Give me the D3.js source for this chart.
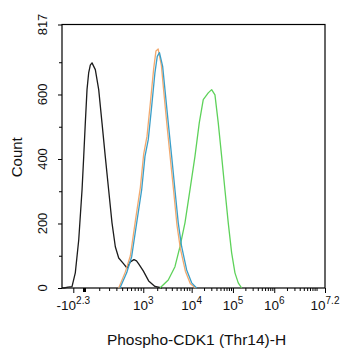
<!DOCTYPE html>
<html><head><meta charset="utf-8">
<script src="https://cdn.jsdelivr.net/npm/d3@7"></script>
<style>
html,body{margin:0;padding:0;background:#fff;}
svg text{font-family:"Liberation Sans",Arial,sans-serif;fill:#111;}
</style></head>
<body><svg id="c" width="342" height="350"></svg>
<script>
// ---- data (intensity, count) ----
const blackX = [-725, -594, -386, -238, -148, -77, -25, -3.5, 6.6, 15.7, 25.3, 34.9, 45.8, 68.9, 95.5, 124.6, 157, 195, 237, 284, 338, 430, 501, 580, 681, 757, 829, 1000, 1315, 1793, 2513];
const blackCount = [0, 0, 3, 4, 47, 149, 304, 408, 512, 615, 668, 691, 698, 677, 615, 512, 408, 304, 202, 128, 93, 75, 62, 81, 88, 84, 75, 53, 22, 5, 0];

const orangeX = [338, 465, 582, 722, 889, 1021, 1208, 1432, 1684, 1883, 2096, 2442, 2725, 3185, 3738, 4360, 5083, 5950, 7494, 9426, 12500];
const orangeCount = [0, 50, 100, 208, 312, 415, 470, 575, 680, 735, 741, 690, 612, 505, 400, 300, 195, 122, 52, 13, 0];

const blueX = [360, 494, 616, 763, 937, 1091, 1289, 1526, 1793, 2005, 2230, 2597, 2897, 3385, 3970, 4630, 5397, 6315, 7952, 10000, 13240];
const blueCount = [0, 47, 97, 202, 304, 408, 460, 563, 668, 718, 730, 687, 615, 512, 408, 304, 202, 128, 56, 16, 0];

const greenX = [2283, 3385, 4630, 5841, 7354, 9253, 12039, 15320, 19150, 25310, 30590, 36760, 44170, 53370, 64120, 77020, 93040, 111800, 134370, 162400];
const greenCount = [0, 25, 66, 128, 202, 304, 408, 512, 584, 605, 615, 599, 512, 408, 304, 202, 109, 47, 16, 0];

const xMajorValues = [-Math.pow(10, 2.3), 1e3, 1e4, 1e5, 1e6, Math.pow(10, 7.2)];
const xMajorBase = ["-10", "10", "10", "10", "10", "10"];
const xMajorExp = ["2.3", "3", "4", "5", "6", "7.2"];
const yMajor = [0, 200, 400, 600, 817];
const yMinor = [100, 300, 500, 700];
const xTitle = "Phospho-CDK1 (Thr14)-H";
const yTitle = "Count";

// ---- layout ----
const L = 62, R = 325, T = 24.5, B = 288;
const W = R - L;
const svg = d3.select("#c");

// biexponential-like display: symlog with piecewise anchors
const xAnchors = [-Math.pow(10, 2.3), 0, 1e3, 1e4, 1e5, 1e6, Math.pow(10, 7.2)];
const xAnchorFrac = [0.043, 0.0837, 0.309, 0.493, 0.650, 0.807, 1.0];
const x = d3.scaleSymlog().constant(140).domain(xAnchors).range(xAnchorFrac.map(f => L + f * W));
const y = d3.scaleLinear().domain([0, 817]).range([B, T]);

// minor x ticks
const xMinor = [];
for (let k = 1; k <= 9; k++) xMinor.push(k * 100);
[1e3, 1e4, 1e5, 1e6].forEach(d => { for (let k = 2; k <= 9; k++) if (d * k < Math.pow(10, 7.2)) xMinor.push(d * k); });
xMinor.push(1e7);

// frame
svg.append("rect").attr("x", L).attr("y", T).attr("width", W).attr("height", B - T)
  .attr("fill", "none").attr("stroke", "#000").attr("stroke-width", 1.2);

// x axis ticks
const gx = svg.append("g").attr("transform", `translate(0,${B})`);
gx.call(d3.axisBottom(x).tickValues(xMinor).tickSize(3).tickFormat(""));
gx.append("g").call(d3.axisBottom(x).tickValues(xMajorValues).tickSize(5).tickFormat(""));
gx.append("g").call(d3.axisBottom(x).tickValues([0]).tickSize(4).tickFormat(""))
  .selectAll(".tick line").attr("stroke-width", 3);
gx.selectAll(".domain").remove();
gx.selectAll("line").attr("stroke", "#000");

// x labels
const xl = svg.append("g");
xMajorValues.forEach((v, i) => {
  const t = xl.append("text").attr("x", x(v)).attr("y", 309.5).attr("text-anchor", "middle").attr("font-size", 13.5);
  t.append("tspan").text(xMajorBase[i]);
  t.append("tspan").attr("dy", -6).attr("font-size", 10).text(xMajorExp[i]);
});

// y axis ticks
const gy = svg.append("g").attr("transform", `translate(${L},0)`);
gy.call(d3.axisLeft(y).tickValues(yMajor).tickSize(4).tickFormat(""));
gy.append("g").call(d3.axisLeft(y).tickValues(yMinor).tickSize(3).tickFormat(""));
gy.selectAll(".domain").remove();
gy.selectAll("line").attr("stroke", "#000");

yMajor.forEach(v => {
  svg.append("text").attr("transform", `translate(46.5,${y(v)}) rotate(-90)`)
    .attr("text-anchor", "middle").attr("font-size", 13).text(v);
});

// titles
svg.append("text").attr("x", 196.5).attr("y", 344.5).attr("text-anchor", "middle").attr("font-size", 15.5).text(xTitle);
svg.append("text").attr("transform", `translate(21.5,${(T + B) / 2 + 1}) rotate(-90)`)
  .attr("text-anchor", "middle").attr("font-size", 15).text(yTitle);

// curves
const line = d3.line().x(d => x(d[0])).y(d => y(d[1]));
const series = [
  {xs: blackX, cs: blackCount, color: "#1c1c1c"},
  {xs: greenX, cs: greenCount, color: "#5ed25a"},
  {xs: orangeX, cs: orangeCount, color: "#f2a96e"},
  {xs: blueX, cs: blueCount, color: "#3a9fc9"}
];
series.forEach(s => {
  svg.append("path").datum(s.xs.map((v, i) => [v, s.cs[i]]))
    .attr("d", line).attr("fill", "none").attr("stroke", s.color)
    .attr("stroke-width", 1.3).attr("stroke-linejoin", "round");
});
</script></body></html>
